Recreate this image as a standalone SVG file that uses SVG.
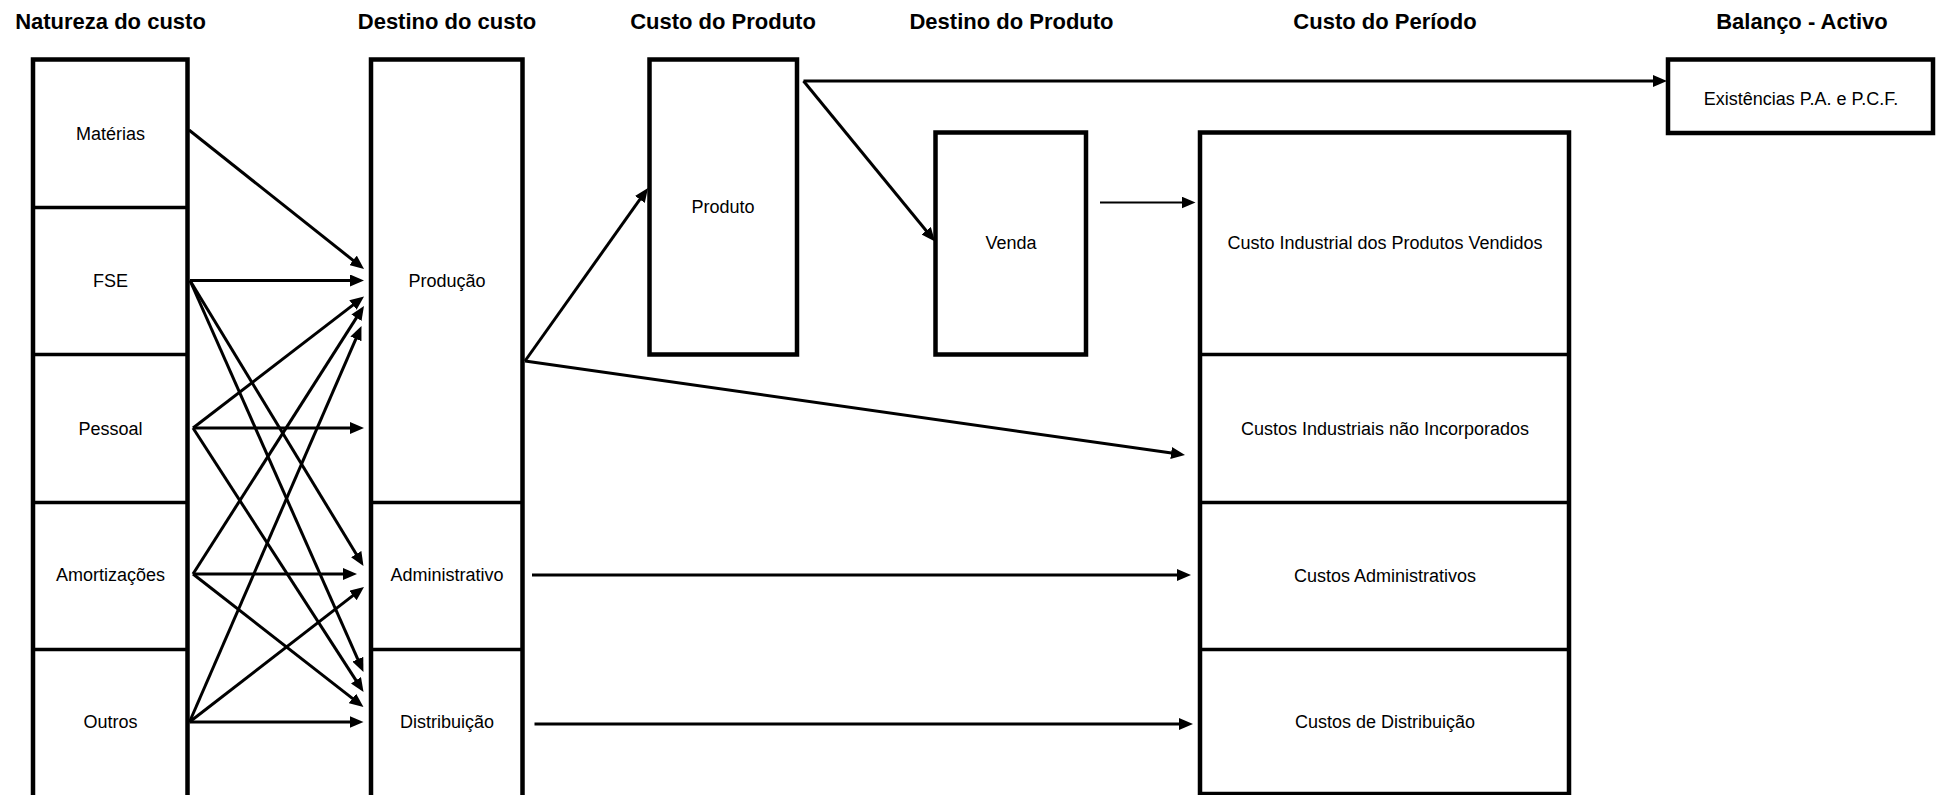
<svg xmlns="http://www.w3.org/2000/svg" width="1937" height="795" viewBox="0 0 1937 795">
  <style>
    .hdr { font-family: "Liberation Sans", Arial, sans-serif; font-weight: bold; font-size: 22px; fill: #000; text-anchor: middle; }
    .lbl { font-family: "Liberation Sans", Arial, sans-serif; font-size: 18px; fill: #000; text-anchor: middle; }
    .box { fill: #fff; stroke: #000; stroke-width: 4.5; }
    .div { stroke: #000; stroke-width: 3.5; fill: none; }
    .con { stroke: #000; stroke-width: 3; fill: none; marker-end: url(#arrow); }
    .con.thin { stroke-width: 2; }
  </style>
  <defs>
    <marker id="arrow" markerUnits="userSpaceOnUse" markerWidth="14" markerHeight="12" viewBox="0 0 14 12" refX="4" refY="6" orient="auto">
      <path d="M0,0 L14,6 L0,12 z" fill="#000"/>
    </marker>
  </defs>
  <rect width="1937" height="795" fill="#fff"/>

  <!-- column headings -->
  <g id="headings">
    <text class="hdr" x="110.5" y="28.5">Natureza do custo</text>
    <text class="hdr" x="447" y="28.5">Destino do custo</text>
    <text class="hdr" x="723" y="28.5">Custo do Produto</text>
    <text class="hdr" x="1011.5" y="28.5">Destino do Produto</text>
    <text class="hdr" x="1385" y="28.5">Custo do Período</text>
    <text class="hdr" x="1802" y="28.5">Balanço - Activo</text>
  </g>

  <!-- cost nature column -->
  <g id="natureza">
    <rect class="box" x="33" y="59.5" width="154.5" height="738"/>
    <line class="div" x1="33" y1="207.5" x2="187.5" y2="207.5"/>
    <line class="div" x1="33" y1="354.5" x2="187.5" y2="354.5"/>
    <line class="div" x1="33" y1="502.5" x2="187.5" y2="502.5"/>
    <line class="div" x1="33" y1="649.5" x2="187.5" y2="649.5"/>
    <g id="materias"><text class="lbl" x="110.5" y="139.5">Matérias</text></g>
    <g id="fse"><text class="lbl" x="110.5" y="286.5">FSE</text></g>
    <g id="pessoal"><text class="lbl" x="110.5" y="434.5">Pessoal</text></g>
    <g id="amortizacoes"><text class="lbl" x="110.5" y="580.5">Amortizações</text></g>
    <g id="outros"><text class="lbl" x="110.5" y="728">Outros</text></g>
  </g>

  <!-- cost destination column -->
  <g id="destino">
    <rect class="box" x="371" y="59.5" width="151.5" height="738"/>
    <line class="div" x1="371" y1="502.5" x2="522.5" y2="502.5"/>
    <line class="div" x1="371" y1="649.5" x2="522.5" y2="649.5"/>
    <g id="producao"><text class="lbl" x="447" y="286.5">Produção</text></g>
    <g id="administrativo"><text class="lbl" x="447" y="580.5">Administrativo</text></g>
    <g id="distribuicao"><text class="lbl" x="447" y="728">Distribuição</text></g>
  </g>

  <g id="produto">
    <rect class="box" x="649.5" y="59.5" width="147.5" height="295"/>
    <text class="lbl" x="723" y="213">Produto</text>
  </g>

  <g id="venda">
    <rect class="box" x="935.5" y="132.5" width="150.5" height="222"/>
    <text class="lbl" x="1011" y="248.5">Venda</text>
  </g>

  <!-- period cost column -->
  <g id="periodo">
    <rect class="box" x="1200" y="132.5" width="369" height="661.5"/>
    <line class="div" x1="1200" y1="354.5" x2="1569" y2="354.5"/>
    <line class="div" x1="1200" y1="502.5" x2="1569" y2="502.5"/>
    <line class="div" x1="1200" y1="649.5" x2="1569" y2="649.5"/>
    <g id="cipv"><text class="lbl" x="1385" y="248.5">Custo Industrial dos Produtos Vendidos</text></g>
    <g id="cini"><text class="lbl" x="1385" y="435">Custos Industriais não Incorporados</text></g>
    <g id="custos-adm"><text class="lbl" x="1385" y="581.5">Custos Administrativos</text></g>
    <g id="custos-dist"><text class="lbl" x="1385" y="727.5">Custos de Distribuição</text></g>
  </g>

  <g id="existencias">
    <rect class="box" x="1668" y="59.5" width="265" height="73.5"/>
    <text class="lbl" x="1801" y="104.5">Existências P.A. e P.C.F.</text>
  </g>

  <!-- flows -->
  <g id="connectors">
    <line class="con" x1="189" y1="130" x2="356.2" y2="262.8"/>
    <line class="con" x1="190" y1="280.5" x2="354" y2="280.5"/>
    <line class="con" x1="190" y1="280.5" x2="358.3" y2="557.5"/>
    <line class="con" x1="190" y1="280.5" x2="359.4" y2="662.9"/>
    <line class="con" x1="193" y1="428" x2="356.1" y2="302.6"/>
    <line class="con" x1="193" y1="428" x2="354" y2="428"/>
    <line class="con" x1="193" y1="428" x2="358.1" y2="683.6"/>
    <line class="con" x1="193" y1="574" x2="358.6" y2="314.4"/>
    <line class="con" x1="193" y1="574" x2="347" y2="574"/>
    <line class="con" x1="193" y1="574" x2="355.6" y2="700.9"/>
    <line class="con" x1="189.5" y1="722" x2="357.5" y2="335.2"/>
    <line class="con" x1="189.5" y1="722" x2="356.1" y2="593.1"/>
    <line class="con" x1="189.5" y1="722" x2="353.5" y2="722"/>
    <line class="con" x1="525" y1="361" x2="642.2" y2="196.2"/>
    <line class="con" x1="525" y1="361" x2="1175.1" y2="453.6"/>
    <line class="con" x1="803.5" y1="81" x2="1657" y2="81"/>
    <line class="con" x1="803.5" y1="81" x2="928.7" y2="233.8"/>
    <line class="con thin" x1="1100" y1="202.5" x2="1185.5" y2="202.5"/>
    <line class="con" x1="532" y1="575" x2="1181" y2="575"/>
    <line class="con" x1="534.5" y1="724" x2="1183" y2="724"/>
  </g>
</svg>
